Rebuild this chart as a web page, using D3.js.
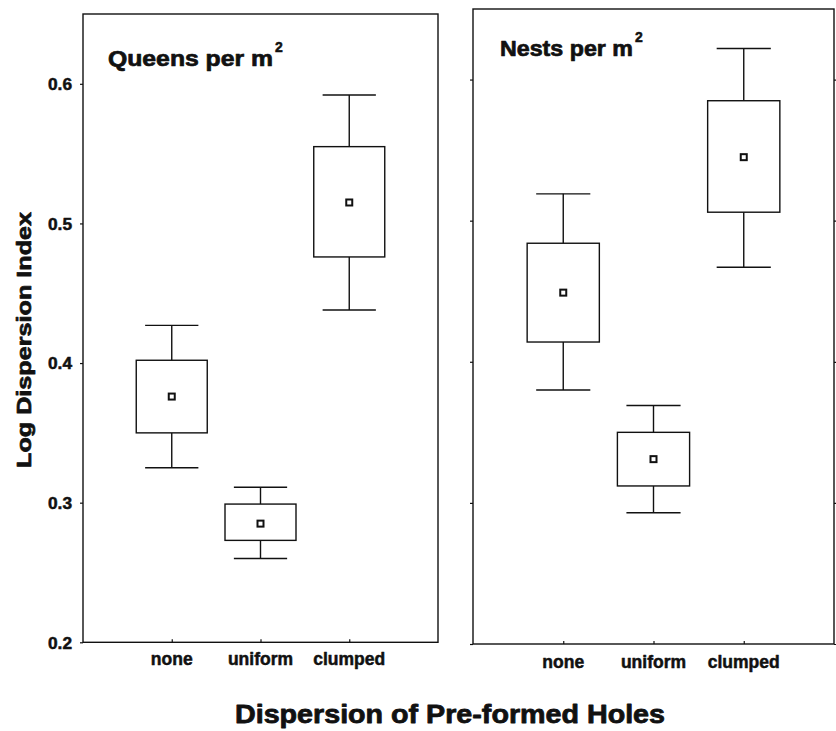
<!DOCTYPE html>
<html>
<head>
<meta charset="utf-8">
<script src="https://cdn.jsdelivr.net/npm/d3@7"></script>
<style>
  html, body { margin: 0; padding: 0; background: #fff; }
  svg { display: block; font-family: "Liberation Sans", Arial, Helvetica, sans-serif; }
  svg text { stroke: #111; stroke-linejoin: round; }
</style>
</head>
<body>
<svg id="chart" width="836" height="731"></svg>
<script>
// ---- data ----
const categories = ["none", "uniform", "clumped"];
const yTicks = [0.2, 0.3, 0.4, 0.5, 0.6];
const yTickLabels = ["0.2", "0.3", "0.4", "0.5", "0.6"];

const queensMean        = [0.376, 0.285, 0.515];
const queensBoxLow      = [0.350, 0.273, 0.476];
const queensBoxHigh     = [0.402, 0.299, 0.555];
const queensWhiskerLow  = [0.325, 0.260, 0.438];
const queensWhiskerHigh = [0.427, 0.311, 0.592];

const nestsMean         = [0.449, 0.331, 0.545];
const nestsBoxLow       = [0.414, 0.312, 0.506];
const nestsBoxHigh      = [0.484, 0.350, 0.585];
const nestsWhiskerLow   = [0.380, 0.293, 0.467];
const nestsWhiskerHigh  = [0.519, 0.369, 0.622];

const panelTitles = ["Queens per m", "Nests per m"];
const yTitle = "Log Dispersion Index";
const xTitle = "Dispersion of Pre-formed Holes";

// ---- layout ----
const svg = d3.select("#chart");
const ink = "#111";

const panels = [
  { left: 83, right: 438, top: 14, bottom: 642.3, title: panelTitles[0], tx: 108, ty: 66, tw: 165, sx: 275, sy: 51.7,
    mean: queensMean, bl: queensBoxLow, bh: queensBoxHigh, wl: queensWhiskerLow, wh: queensWhiskerHigh,
    labels: true, rightTicks: false, xlabY: 665 },
  { left: 473, right: 834, top: 9, bottom: 644, title: panelTitles[1], tx: 500, ty: 56, tw: 133, sx: 635, sy: 42,
    mean: nestsMean, bl: nestsBoxLow, bh: nestsBoxHigh, wl: nestsWhiskerLow, wh: nestsWhiskerHigh,
    labels: false, rightTicks: true, xlabY: 668 }
];

panels.forEach(p => {
  const g = svg.append("g");
  const x = d3.scaleLinear().domain([0, 4]).range([p.left, p.right]);
  const y = d3.scaleLinear().domain([0.2, 0.65]).range([p.bottom, p.top]);
  const unit = x(1) - x(0);

  // frame
  g.append("rect")
    .attr("x", p.left).attr("y", p.top)
    .attr("width", p.right - p.left).attr("height", p.bottom - p.top)
    .attr("fill", "none").attr("stroke", ink).attr("stroke-width", 1.4);

  // y axis (left)
  const yAxis = d3.axisLeft(y).tickValues(yTicks).tickSize(3)
    .tickFormat((d, i) => p.labels ? yTickLabels[i] : "");
  const ya = g.append("g").attr("transform", `translate(${p.left},0)`).call(yAxis);
  ya.select(".domain").remove();
  ya.selectAll("line").attr("stroke", ink).attr("stroke-width", 1.2);
  ya.selectAll("text")
    .attr("x", -11).attr("dy", "0.36em")
    .attr("fill", ink).style("font-size", "16px").style("font-weight", "bold")
    .style("stroke-width", "0.5px")
    .attr("textLength", 24).attr("lengthAdjust", "spacingAndGlyphs");

  if (p.rightTicks) {
    const yr = g.append("g").attr("transform", `translate(${p.right},0)`)
      .call(d3.axisRight(y).tickValues(yTicks).tickSize(3).tickFormat(""));
    yr.select(".domain").remove();
    yr.selectAll("line").attr("stroke", ink).attr("stroke-width", 1.2);
  }

  // x axis (ticks inward)
  const xAxis = d3.axisTop(x).tickValues([1, 2, 3]).tickSize(3).tickFormat("");
  const xa = g.append("g").attr("transform", `translate(0,${p.bottom})`).call(xAxis);
  xa.select(".domain").remove();
  xa.selectAll("line").attr("stroke", ink).attr("stroke-width", 1.2);

  // x labels
  g.selectAll("text.xlab").data(categories).enter().append("text")
    .attr("class", "xlab")
    .attr("x", (d, i) => x(i + 1)).attr("y", p.xlabY)
    .attr("text-anchor", "middle").attr("fill", ink)
    .style("font-size", "17.5px").style("font-weight", "bold")
    .style("stroke-width", "0.5px")
    .text(d => d);

  // boxes
  categories.forEach((c, i) => {
    const cx = x(i + 1);
    g.append("line").attr("x1", cx).attr("x2", cx)
      .attr("y1", y(p.wh[i])).attr("y2", y(p.bh[i]))
      .attr("stroke", ink).attr("stroke-width", 1.4);
    g.append("line").attr("x1", cx).attr("x2", cx)
      .attr("y1", y(p.bl[i])).attr("y2", y(p.wl[i]))
      .attr("stroke", ink).attr("stroke-width", 1.4);
    [p.wh[i], p.wl[i]].forEach(v => {
      g.append("line").attr("x1", cx - 0.3 * unit).attr("x2", cx + 0.3 * unit)
        .attr("y1", y(v)).attr("y2", y(v))
        .attr("stroke", ink).attr("stroke-width", 1.4);
    });
    g.append("rect")
      .attr("x", cx - 0.4 * unit).attr("width", 0.8 * unit)
      .attr("y", y(p.bh[i])).attr("height", y(p.bl[i]) - y(p.bh[i]))
      .attr("fill", "#fff").attr("stroke", ink).attr("stroke-width", 1.4);
    g.append("rect")
      .attr("x", cx - 3).attr("y", y(p.mean[i]) - 3)
      .attr("width", 6).attr("height", 6)
      .attr("fill", "#fff").attr("stroke", ink).attr("stroke-width", 2);
  });

  // panel title
  g.append("text").attr("x", p.tx).attr("y", p.ty)
    .attr("fill", ink).style("font-size", "22px").style("font-weight", "bold")
    .style("stroke-width", "0.7px")
    .attr("textLength", p.tw).attr("lengthAdjust", "spacingAndGlyphs")
    .text(p.title);
  g.append("text").attr("x", p.sx).attr("y", p.sy)
    .attr("fill", ink).style("font-size", "14px").style("font-weight", "bold")
    .style("stroke-width", "0.5px")
    .text("2");
});

// axis titles
svg.append("text")
  .attr("transform", "translate(31,340) rotate(-90)")
  .attr("text-anchor", "middle").attr("fill", ink)
  .style("font-size", "21px").style("font-weight", "bold")
  .style("stroke-width", "0.7px")
  .attr("textLength", 256).attr("lengthAdjust", "spacingAndGlyphs")
  .text(yTitle);

svg.append("text")
  .attr("x", 450).attr("y", 723)
  .attr("text-anchor", "middle").attr("fill", ink)
  .style("font-size", "26px").style("font-weight", "bold")
  .style("stroke-width", "0.8px")
  .attr("textLength", 430).attr("lengthAdjust", "spacingAndGlyphs")
  .text(xTitle);
</script>
</body>
</html>
